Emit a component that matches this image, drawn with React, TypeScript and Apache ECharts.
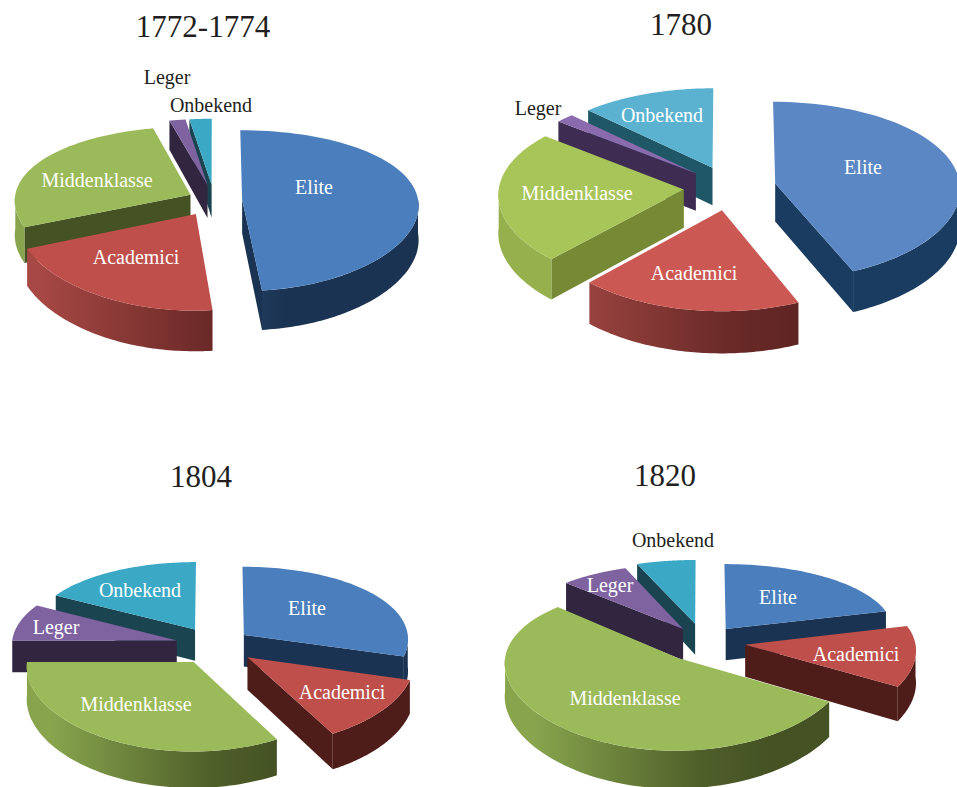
import React, { useEffect, useRef } from "react";
import * as echarts from "echarts";

const categories = ["Elite", "Academici", "Middenklasse", "Leger", "Onbekend"];
const titles = ["1772-1774", "1780", "1804", "1820"];
const values1772 = [48.5, 20, 27.7, 1.6, 2.2];
const values1780 = [43.6, 18.3, 23.9, 1.7, 12.5];
const values1804 = [29.5, 12.5, 33, 8, 17];
const values1820 = [21, 12.5, 53.5, 7, 6];
const allValues = [values1772, values1780, values1804, values1820];

const FONT = '"Liberation Serif", serif';
const INK = "#231f20";

const standardColours = [
  { top: "#4a7ebd", wall: "#1b3352", arc: ["#3c6797", "#24466a"] },
  { top: "#be4f4b", wall: "#4e1d1a", arc: ["#a74844", "#6a2927"] },
  { top: "#9bba59", wall: "#445224", arc: ["#88a54e", "#4f5f29"] },
  { top: "#7f63a1", wall: "#32253f", arc: ["#32253f", "#32253f"] },
  { top: "#3ba8c5", wall: "#1b4451", arc: ["#1b4451", "#1b4451"] },
];
const softColours = [
  { top: "#5b88c5", wall: "#1a3c60", arc: ["#1c3f63", "#1a3c60"] },
  { top: "#cb5852", wall: "#5e2422", arc: ["#a64a45", "#6a2a28"] },
  { top: "#a8c55a", wall: "#768a36", arc: ["#96b04e", "#7d933a"] },
  { top: "#8a6bae", wall: "#3e2c52", arc: ["#3e2c52", "#3e2c52"] },
  { top: "#5ab2d0", wall: "#1f5766", arc: ["#1f5766", "#1f5766"] },
];

const layouts = [
  { cx: 214, cy: 200, rx: 176, ry: 79, k: 0.139, kx: 0.07, depth: 34, explode: [0.16, 0.2, 0.15, 0.2, 0.2], colours: standardColours,
    titlePos: [203, 29],
    labels: [[314, 187], [136, 257], [97, 180], [167, 77], [211, 105]], dark: [3, 4] },
  { cx: 730, cy: 188, rx: 185, ry: 89, k: 0.08, kx: 0.05, depth: 38, explode: [0.25, 0.25, 0.25, 0.25, 0.25], colours: softColours,
    titlePos: [681, 27],
    labels: [[863, 167], [694, 273], [577, 193], [538, 108], [662, 115]], dark: [3] },
  { cx: 215, cy: 645, rx: 165, ry: 77, k: 0.1, kx: 0.05, depth: 32, explode: [0.22, 0.25, 0.25, 0.24, 0.24], colours: standardColours,
    titlePos: [201, 479],
    labels: [[307, 608], [342, 692], [136, 704], [56, 627], [140, 590]], dark: [] },
  { cx: 703, cy: 642, rx: 170, ry: 76.5, k: 0.13, kx: 0.06, depth: 32, explode: [0.22, 0.25, 0.25, 0.21, 0.25], colours: standardColours,
    titlePos: [665, 478],
    labels: [[778, 597], [856, 654], [625, 698], [610, 585], [673, 540]], dark: [4] },
];

function makeRenderer(chartIndex: number) {
  const L = layouts[chartIndex];
  const vals = allValues[chartIndex];
  const total = vals.reduce((a, b) => a + b, 0);
  return (params: any, api: any) => {
    const i = params.dataIndex;
    const before = vals.slice(0, i).reduce((a, b) => a + b, 0);
    const a1 = (before / total) * 2 * Math.PI;
    const a2 = a1 + (api.value(0) / total) * 2 * Math.PI;
    const mid = (a1 + a2) / 2;
    const e = L.explode[i];
    const du = e * Math.sin(mid);
    const dv = e * Math.cos(mid);
    // Projects a point of the tilted disc, with a little perspective.
    const proj = (u: number, v: number, low: boolean) => {
      const s = 1 / (1 + L.k * v);
      const sx = 1 / (1 + L.kx * v);
      return [L.cx + L.rx * u * sx, L.cy - L.ry * v * s + (low ? L.depth * s : 0)];
    };
    const rim = (a: number, low: boolean) => proj(du + Math.sin(a), dv + Math.cos(a), low);
    const apex = (low: boolean) => proj(du, dv, low);
    const colour = L.colours[i];
    const base = Math.round(500 - 400 * Math.cos(mid));
    const N = 72;
    const arc = (from: number, to: number, low: boolean) => {
      const pts: number[][] = [];
      for (let n = 0; n <= N; n++) pts.push(rim(from + ((to - from) * n) / N, low));
      return pts;
    };
    const children: any[] = [];
    if (Math.sin(a1) < -1e-6) {
      children.push({ type: "polygon", z2: base, shape: { points: [apex(false), rim(a1, false), rim(a1, true), apex(true)] }, style: { fill: colour.wall } });
    }
    if (Math.sin(a2) > 1e-6) {
      children.push({ type: "polygon", z2: base, shape: { points: [apex(false), rim(a2, false), rim(a2, true), apex(true)] }, style: { fill: colour.wall } });
    }
    const fStart = Math.max(a1, Math.PI / 2);
    const fEnd = Math.min(a2, (3 * Math.PI) / 2);
    if (fEnd > fStart) {
      const upper = arc(fStart, fEnd, false);
      const lower = arc(fStart, fEnd, true).reverse();
      children.push({
        type: "polygon",
        z2: base + 1,
        shape: { points: upper.concat(lower) },
        style: {
          fill: {
            type: "linear",
            x: L.cx - L.rx, y: 0, x2: L.cx + 0.4 * L.rx, y2: 0,
            global: true,
            colorStops: [
              { offset: 0, color: colour.arc[0] },
              { offset: 0.7, color: colour.arc[1] },
              { offset: 1, color: colour.wall },
            ],
          },
        },
      });
    }
    children.push({
      type: "polygon",
      z2: base + 2,
      shape: { points: [apex(false)].concat(arc(a1, a2, false)) },
      style: { fill: colour.top },
    });
    const [lx, ly] = L.labels[i];
    children.push({
      type: "text",
      z2: 2000,
      style: {
        x: lx, y: ly, text: categories[i],
        fill: L.dark.includes(i) ? INK : "#ffffff",
        fontFamily: FONT, fontSize: 20,
        align: "center", verticalAlign: "middle",
        textAlign: "center", textVerticalAlign: "middle",
      },
    });
    return { type: "group", children };
  };
}

export default function App() {
  const ref = useRef<HTMLDivElement>(null);
  useEffect(() => {
    const chart = echarts.init(ref.current!, undefined, { renderer: "svg" });
    chart.setOption({
      animation: false,
      backgroundColor: "#ffffff",
      tooltip: { show: false },
      title: titles.map((text, i) => ({
        text,
        left: layouts[i].titlePos[0],
        top: layouts[i].titlePos[1] - 18,
        textAlign: "center",
        padding: 0,
        textStyle: { fontFamily: FONT, fontSize: 31, fontWeight: "normal", color: INK },
      })),
      series: titles.map((text, c) => ({
        type: "custom",
        name: text,
        coordinateSystem: "none",
        silent: true,
        renderItem: makeRenderer(c),
        data: allValues[c].map((value, i) => ({ name: categories[i], value })),
      })),
    });
    return () => chart.dispose();
  }, []);
  return <div ref={ref} style={{ position: "absolute", left: 0, top: 0, width: 957, height: 787, overflow: "hidden" }} />;
}
